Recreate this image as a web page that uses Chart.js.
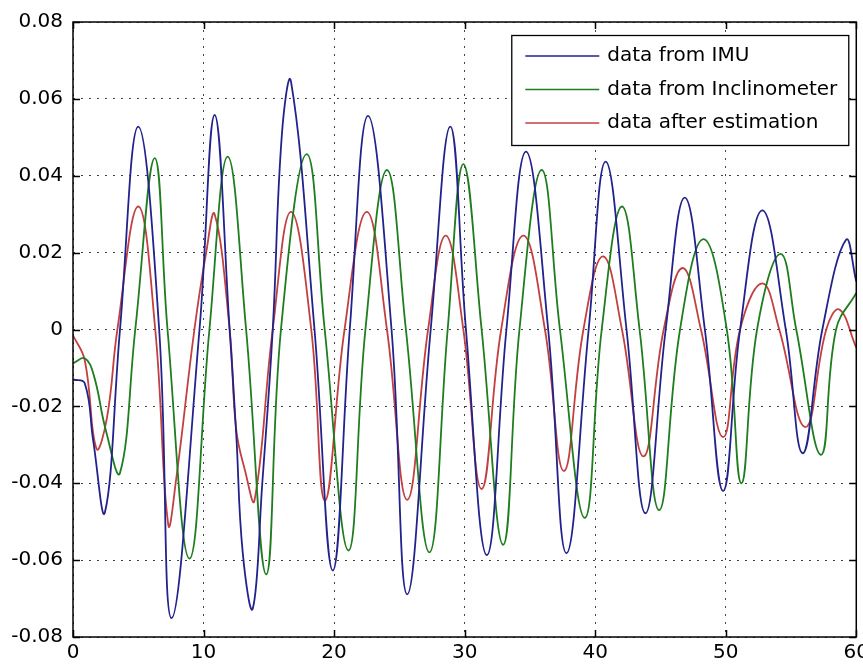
<!DOCTYPE html>
<html>
<head>
<meta charset="utf-8">
<title>IMU / Inclinometer</title>
<script src="https://cdn.jsdelivr.net/npm/chart.js@4.4.1/dist/chart.umd.min.js"></script>
<style>
    html, body { margin: 0; padding: 0; background: #fff; width: 863px; height: 667px; overflow: hidden; }
    #wrap { position: absolute; left: 0; top: 0; width: 873px; height: 667px; }
</style>
</head>
<body>
<div id="wrap"><canvas id="angleChart" width="873" height="667"></canvas></div>
<script>
// tick labels
var xTicks = [0, 10, 20, 30, 40, 50, 60];
var yTicks = [-0.08, -0.06, -0.04, -0.02, 0, 0.02, 0.04, 0.06, 0.08];

// 1. IMU
var imuX = [0, 0.9, 1.55, 2.45, 3.6, 5.0, 6.6, 7.55, 9.69, 10.85, 12.0, 12.5, 13.0, 13.77, 14.5, 15.3, 16.0, 16.7, 18.5, 19.9, 21.2, 22.6, 24.4, 25.6, 27.4, 28.9, 30.1, 31.7, 33.2, 34.7, 36.4, 37.8, 39.5, 40.8, 42.4, 43.85, 45.4, 46.86, 48.4, 49.8, 51.1, 52.8, 54.6, 55.9, 57.4, 59.2, 60];
var imuY = [-0.013, -0.014, -0.029, -0.0475, 0, 0.0528, 0, -0.0751, 0, 0.0558, 0, -0.027, -0.058, -0.0726, -0.04, 0, 0.0507, 0.0645, 0, -0.0627, 0, 0.0556, 0, -0.0689, 0, 0.0528, 0, -0.0587, 0, 0.0463, 0, -0.0582, 0, 0.0437, 0, -0.0478, 0, 0.0343, 0, -0.042, 0, 0.031, 0, -0.0322, 0, 0.0233, 0.0125];

// 2. Inclinometer
var incX = [0, 0.9, 1.6, 2.5, 3.6, 4.77, 6.26, 7.24, 8.92, 10.45, 11.85, 13.26, 14.8, 15.93, 17.9, 19.28, 21.1, 22.4, 24.05, 25.5, 27.3, 28.7, 29.9, 31.3, 32.95, 34.2, 35.9, 37.3, 39.2, 40.5, 42.05, 43.4, 44.9, 46.5, 48.3, 50.08, 51.2, 52.4, 54.2, 55.4, 57.3, 58.45, 60];
var incY = [-0.0088, -0.0075, -0.012, -0.026, -0.0373, 0, 0.0446, 0, -0.0596, 0, 0.045, 0, -0.0637, 0, 0.0456, 0, -0.0575, 0, 0.0415, 0, -0.058, 0, 0.043, 0, -0.056, 0, 0.0415, 0, -0.049, 0, 0.032, 0, -0.047, 0, 0.0235, 0, -0.040, 0, 0.0197, 0, -0.0326, 0, 0.0095];

// 3. estimation
var estX = [0, 0.9, 1.8, 2.6, 3.4, 5.0, 6.3, 7.3, 7.9, 9.3, 10.2, 10.85, 12.0, 12.5, 13.2, 13.9, 15.3, 16.7, 18.25, 19.3, 20.8, 22.5, 24.05, 25.6, 27.2, 28.55, 29.9, 31.3, 32.8, 34.5, 36.15, 37.6, 39.1, 40.6, 42.05, 43.7, 45.25, 46.7, 48.1, 49.8, 51.1, 52.8, 54.1, 56.1, 57.7, 58.7, 60];
var estY = [-0.0015, -0.008, -0.031, -0.023, 0, 0.032, 0, -0.0508, -0.039, 0, 0.02, 0.030, 0, -0.026, -0.037, -0.0445, 0, 0.0306, 0, -0.0445, 0, 0.0306, 0, -0.0443, 0, 0.0244, 0, -0.0415, 0, 0.0244, 0, -0.0368, 0, 0.019, 0, -0.033, 0, 0.016, 0, -0.028, 0, 0.012, 0, -0.0254, 0, 0.0052, -0.0047];

var FONT = { family: '"DejaVu Sans", sans-serif', size: 20 };

function pairs(xs, ys) { return xs.map(function (x, i) { return { x: x, y: ys[i] }; }); }
function series(label, xs, ys, color) {
    return { label: label, data: pairs(xs, ys), borderColor: color, borderWidth: 1.8, pointRadius: 0, fill: false, tension: 0.42 };
}

// box, inward ticks and a boxed legend drawn over the lines
var matlabFrame = {
    id: 'matlabFrame',
    afterDatasetsDraw: function (chart) {
        var c = chart.ctx, a = chart.chartArea, sx = chart.scales.x, sy = chart.scales.y;
        c.save();
        c.strokeStyle = '#000'; c.lineWidth = 1.5;
        c.strokeRect(a.left, a.top, a.right - a.left, a.bottom - a.top);
        c.beginPath();
        xTicks.forEach(function (v) {
            var px = Math.round(sx.getPixelForValue(v)) + 0.5;
            c.moveTo(px, a.bottom); c.lineTo(px, a.bottom - 7);
            c.moveTo(px, a.top); c.lineTo(px, a.top + 7);
        });
        yTicks.forEach(function (v) {
            var py = Math.round(sy.getPixelForValue(v)) + 0.5;
            c.moveTo(a.left, py); c.lineTo(a.left + 7, py);
            c.moveTo(a.right, py); c.lineTo(a.right - 7, py);
        });
        c.stroke();

        // legend
        var L = a.right - 345, T = a.top + 13, W = 337, H = 110;
        c.fillStyle = '#fff'; c.fillRect(L, T, W, H);
        c.lineWidth = 1.3; c.strokeRect(L + 0.5, T + 0.5, W, H);
        c.font = FONT.size + 'px ' + FONT.family; c.textBaseline = 'middle'; c.textAlign = 'left';
        chart.data.datasets.forEach(function (ds, i) {
            var y = T + 21 + i * 33.5;
            c.strokeStyle = ds.borderColor; c.lineWidth = 1.6;
            c.beginPath(); c.moveTo(L + 14, y); c.lineTo(L + 88, y); c.stroke();
            c.fillStyle = '#000'; c.fillText(ds.label, L + 96, y);
        });
        c.restore();
    }
};

new Chart(document.getElementById('angleChart'), {
    type: 'line',
    data: { datasets: [
        series('data from IMU', imuX, imuY, '#22228c'),
        series('data from Inclinometer', incX, incY, '#1e7d1e'),
        series('data after estimation', estX, estY, '#c24040')
    ] },
    options: {
        responsive: false, animation: false, devicePixelRatio: 1,
        layout: { padding: { top: 20, right: 16, left: 0, bottom: 0 } },
        plugins: { legend: { display: false }, tooltip: { enabled: false } },
        scales: {
            x: {
                type: 'linear', min: 0, max: 60,
                afterBuildTicks: function (s) { s.ticks = xTicks.map(function (v) { return { value: v }; }); },
                afterFit: function (s) { s.height = 30; },
                ticks: { color: '#000', font: FONT, padding: 4, maxRotation: 0, autoSkip: false },
                grid: { color: '#444', lineWidth: 1, drawTicks: false },
                border: { display: false, dash: [2, 6] }
            },
            y: {
                type: 'linear', min: -0.08, max: 0.08,
                afterBuildTicks: function (s) { s.ticks = yTicks.map(function (v) { return { value: v }; }); },
                afterFit: function (s) { s.width = 73; },
                ticks: { color: '#000', font: FONT, padding: 10, autoSkip: false,
                    callback: function (v) { return String(Number(v.toFixed(2))); } },
                grid: { color: '#444', lineWidth: 1, drawTicks: false },
                border: { display: false, dash: [2, 6] }
            }
        }
    },
    plugins: [matlabFrame]
});
</script>
</body>
</html>
